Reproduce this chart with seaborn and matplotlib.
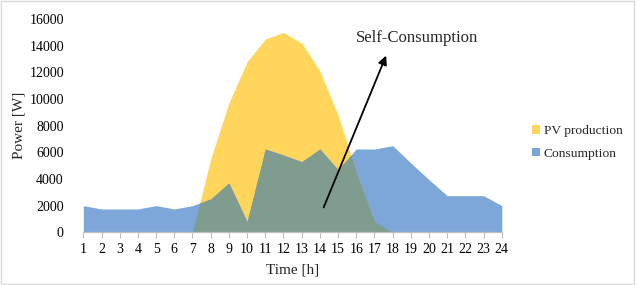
import matplotlib
matplotlib.use("Agg")
import matplotlib.pyplot as plt
import seaborn as sns
import numpy as np
import pandas as pd
from matplotlib.patches import Patch, Rectangle

hours = list(range(1, 25))
pv_production = [0, 0, 0, 0, 0, 0, 0, 5500, 9700, 12800, 14500, 15000,
                 14200, 12100, 8800, 4500, 800, 0, 0, 0, 0, 0, 0, 0]
consumption = [2000, 1750, 1750, 1750, 2000, 1750, 2000, 2500, 3700, 800, 6250, 5800,
               5300, 6250, 4700, 6250, 6250, 6500, 5200, 3950, 2750, 2750, 2750, 2000]
y_ticks = [0, 2000, 4000, 6000, 8000, 10000, 12000, 14000, 16000]

col_pv = "#FFD55C"
col_cons = "#7DA7D8"
col_overlap = "#7F9C8E"

sns.set_theme(style="white")
plt.rcParams["font.family"] = ["Liberation Serif", "DejaVu Serif"]

df = pd.DataFrame({"hour": hours, "pv": pv_production, "cons": consumption})

fig = plt.figure(figsize=(6.36, 2.85), dpi=100)
ax = fig.add_axes([0.131, 0.185, 0.658, 0.748])

sns.lineplot(data=df, x="hour", y="pv", ax=ax, linewidth=0, color=col_pv)
sns.lineplot(data=df, x="hour", y="cons", ax=ax, linewidth=0, color=col_cons)

x = np.array(hours, dtype=float)
pv = np.array(pv_production, dtype=float)
cons = np.array(consumption, dtype=float)
xf = np.linspace(x[0], x[-1], 2301)
pvf = np.interp(xf, x, pv)
consf = np.interp(xf, x, cons)
ax.fill_between(x, 0, pv, color=col_pv, linewidth=0)
ax.fill_between(x, 0, cons, color=col_cons, linewidth=0)
ax.fill_between(xf, 0, np.minimum(pvf, consf), color=col_overlap, linewidth=0)

ax.set_xlim(1, 24)
ax.set_ylim(0, 16000)
ax.set_xticks(hours)
ax.set_xticklabels([str(h) for h in hours], fontsize=10)
ax.set_yticks(y_ticks)
ax.set_yticklabels([str(t) for t in y_ticks], fontsize=10)
ax.set_xlabel("Time [h]", fontsize=11, labelpad=5)
ax.set_ylabel("Power [W]", fontsize=11, labelpad=3)

for s in ["top", "right", "left"]:
    ax.spines[s].set_visible(False)
ax.spines["bottom"].set_color("#BFBFBF")
ax.spines["bottom"].set_linewidth(0.9)
ax.tick_params(axis="x", bottom=True, length=4, width=0.8, color="#BFBFBF", pad=4, labelcolor="#000000")
ax.tick_params(axis="y", left=False, pad=8, labelcolor="#000000")

ax.annotate("", xy=(17.7, 13450), xytext=(14.15, 1670),
            arrowprops=dict(arrowstyle="-|>", color="black", lw=1.3, mutation_scale=13))
ax.text(19.35, 14600, "Self-Consumption", fontsize=12, ha="center", va="center")

handles = [Patch(facecolor=col_pv, edgecolor="none", label="PV production"),
           Patch(facecolor=col_cons, edgecolor="none", label="Consumption")]
fig.legend(handles=handles, loc="center left", bbox_to_anchor=(0.818, 0.5),
           frameon=False, fontsize=9.7, handlelength=0.6, handleheight=0.6,
           handletextpad=0.25, labelspacing=0.8)

fig.patches.append(Rectangle((0.002, 0.004), 0.995, 0.992, transform=fig.transFigure,
                             fill=False, edgecolor="#D9D9D9", linewidth=1.0))

fig.savefig("out.png", dpi=100)
